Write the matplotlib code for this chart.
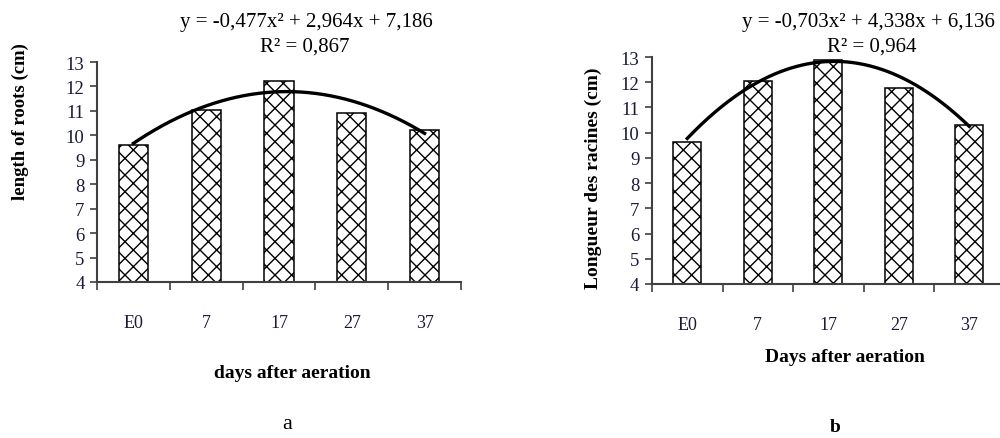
import matplotlib
matplotlib.use("Agg")
import matplotlib.pyplot as plt
import numpy as np

days = ['E0', '7', '17', '27', '37']
roots_a = [9.62, 11.05, 12.24, 10.9, 10.22]
roots_b = [9.63, 12.06, 12.9, 11.77, 10.31]

# trend line coefficients (as printed on the chart)
coef_a = [-0.477, 2.964, 7.186]
coef_b = [-0.703, 4.338, 6.136]
r2_a = 0.867
r2_b = 0.964

plt.rcParams['font.family'] = ['Liberation Serif', 'DejaVu Serif']

fig = plt.figure(figsize=(10, 4.39), dpi=100)
ax_a = fig.add_axes([0.097, 0.3554, 0.364, 0.501])
ax_b = fig.add_axes([0.652, 0.3508, 0.3525, 0.517])


def fmt(v):
    return f'{abs(v):.3f}'.replace('.', ',')


def eq_text(c):
    s = 'y = ' + ('-' if c[0] < 0 else '') + fmt(c[0]) + 'x²'
    s += (' - ' if c[1] < 0 else ' + ') + fmt(c[1]) + 'x'
    s += (' - ' if c[2] < 0 else ' + ') + fmt(c[2])
    return s


def draw(ax, vals, coef):
    x = np.arange(1, len(vals) + 1)
    ax.bar(x, vals, width=0.4, bottom=0, color='white', edgecolor='black',
           hatch='xx', linewidth=1.1, zorder=2)
    xs = np.linspace(1, len(vals), 200)
    ax.plot(xs, np.polyval(coef, xs), color='black', lw=2.4, zorder=3)
    ax.set_xlim(0.5, len(vals) + 0.5)
    ax.set_ylim(4, 13)
    ax.set_yticks(range(4, 14))
    ax.tick_params(axis='y', direction='out', length=5, width=1.2,
                   colors='#404040', labelcolor='#1a1a3a', labelsize=13.5, pad=4)
    ax.set_xticks(x)
    ax.set_xticklabels(days)
    ax.set_xticks(np.arange(0.5, len(vals) + 1), minor=True)
    ax.tick_params(axis='x', which='major', length=0, labelsize=13,
                   labelcolor='#1a1a3a', pad=23)
    ax.tick_params(axis='x', which='minor', direction='out', length=6,
                   width=1.2, colors='#404040')
    for s in ['top', 'right']:
        ax.spines[s].set_visible(False)
    for s in ['left', 'bottom']:
        ax.spines[s].set_color('#404040')
        ax.spines[s].set_linewidth(1.5)


draw(ax_a, roots_a, coef_a)
draw(ax_b, roots_b, coef_b)

# equations
fig.text(0.306, 1 - 23 / 439, eq_text(coef_a), ha='center', va='center', fontsize=15)
fig.text(0.305, 1 - 47 / 439, 'R² = ' + f'{r2_a:.3f}'.replace('.', ','),
         ha='center', va='center', fontsize=15)
fig.text(0.742, 1 - 23 / 439, eq_text(coef_b), ha='left', va='center', fontsize=15)
fig.text(0.872, 1 - 47 / 439, 'R² = ' + f'{r2_b:.3f}'.replace('.', ','),
         ha='center', va='center', fontsize=15)

# axis titles
fig.text(0.020, 1 - 122 / 439, 'length of roots (cm)', rotation=90, ha='center',
         va='center', fontsize=13.5, fontweight='bold')
fig.text(0.593, 1 - 178 / 439, 'Longueur des racines (cm)', rotation=90,
         ha='center', va='center', fontsize=14, fontweight='bold')
fig.text(0.292, 1 - 373 / 439, 'days after aeration', ha='center', va='center',
         fontsize=14, fontweight='bold')
fig.text(0.845, 1 - 358 / 439, 'Days after aeration', ha='center', va='center',
         fontsize=14, fontweight='bold')

# panel letters
fig.text(0.287, 1 - 425 / 439, 'a', ha='center', va='center', fontsize=16)
fig.text(0.835, 1 - 428 / 439, 'b', ha='center', va='center', fontsize=14,
         fontweight='bold')

fig.savefig('out.png', dpi=100)
